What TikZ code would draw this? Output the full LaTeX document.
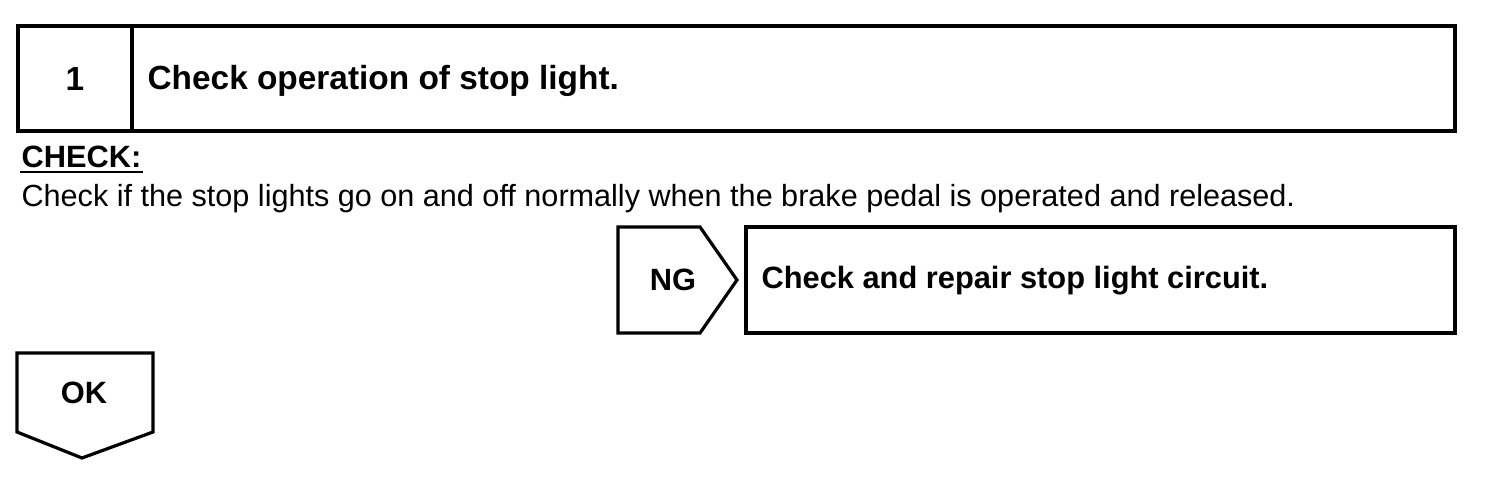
\documentclass[tikz,border=0pt]{standalone}
\usepackage{fontspec}
\setmainfont{Liberation Sans}
\usetikzlibrary{positioning}
\begin{document}
\begin{tikzpicture}[x=0.5pt,y=-0.5pt,line width=1.6pt,line join=miter,
 hd/.style={inner sep=0,font=\fontsize{16.7}{20}\selectfont\bfseries},
 txt/.style={inner sep=0,font=\fontsize{15.3}{18}\selectfont},
 lbl/.style={inner sep=0,font=\fontsize{15.4}{18}\selectfont\bfseries}]
\useasboundingbox(0,0)rectangle(1504,486);
% step header
\draw(18,26)rectangle(1455,131);\draw(132,26)--(132,131);
\node[hd](num)at(75,79){1};
\node[hd,anchor=base west](ttl)at(146,90){Check operation of stop light.};
% check text
\node[lbl,anchor=base west](chk)at(20,168){CHECK:};\draw[line width=1.2pt]([yshift=-2pt]chk.base west)--([yshift=-2pt]chk.base east);
\node[txt,anchor=base west](desc)at(20,207){Check if the stop lights go on and off normally when the brake pedal is operated and released.};
% NG branch
\draw(618,227)--(700,227)--(737,280)--(700,333)--(618,333)--cycle;\draw(746,227)rectangle(1455,333);
\node[lbl](ng)at(673,280){NG};
\node[lbl,anchor=base west](ngtxt)at(760,288){Check and repair stop light circuit.};
% OK branch
\draw(17,353)--(153,353)--(153,432)--(82,458)--(17,432)--cycle;
\node[lbl](ok)at(84,393){OK};
\end{tikzpicture}
\end{document}
